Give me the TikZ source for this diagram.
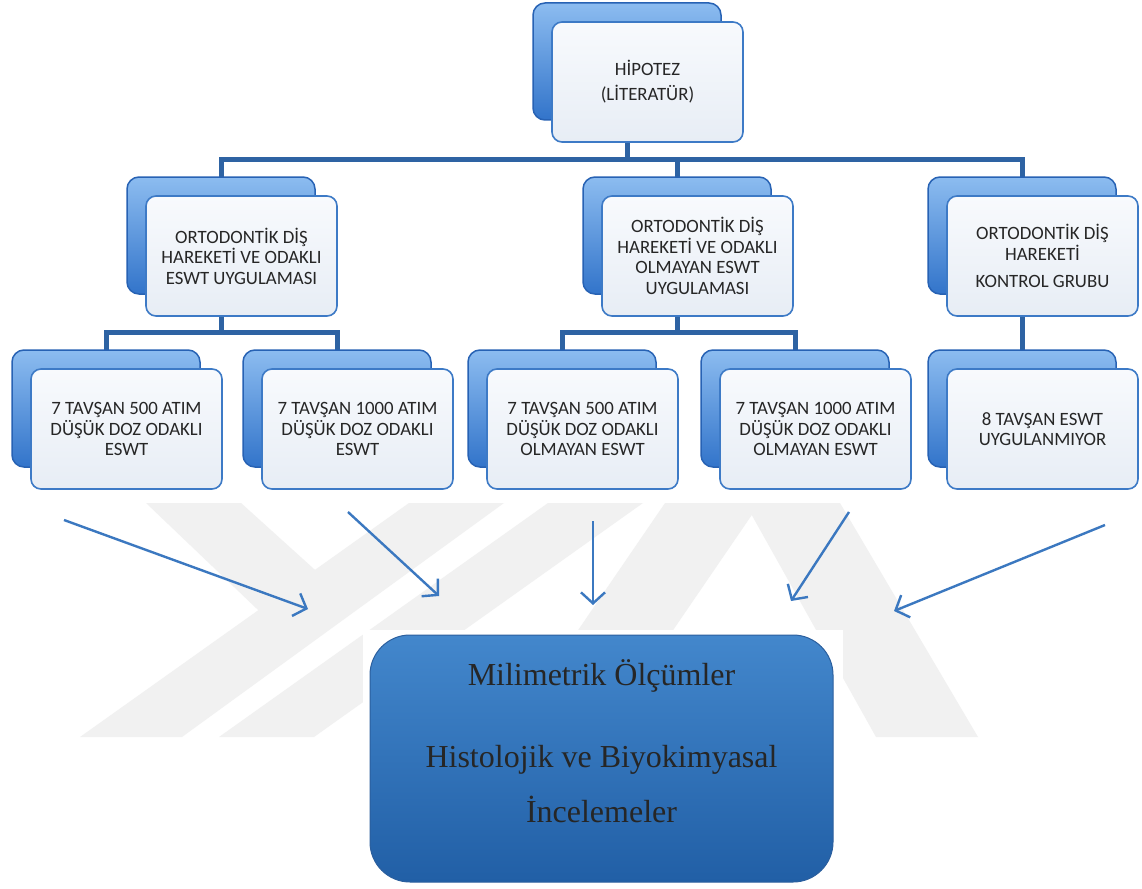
\documentclass[tikz,border=0pt]{standalone}
\usepackage{fontspec}
\setmainfont{Liberation Serif}
\newfontfamily\calib{Carlito}
\usetikzlibrary{arrows.meta,calc}
\definecolor{connc}{HTML}{2E63A3}
\definecolor{arrc}{HTML}{3B78C0}
\definecolor{txtc}{HTML}{262626}
\definecolor{backtop}{HTML}{8CBCF0}
\definecolor{backmid}{HTML}{4A8DDD}
\definecolor{backbot}{HTML}{3274CA}
\definecolor{backdraw}{HTML}{2762B4}
\definecolor{fronttop}{HTML}{F8FAFD}
\definecolor{frontbot}{HTML}{E7EDF5}
\definecolor{frontdraw}{HTML}{3D7AC6}
\definecolor{bigtop}{HTML}{4387CC}
\definecolor{bigbot}{HTML}{215FA6}
\definecolor{bigdraw}{HTML}{2B5F9E}
\definecolor{wmark}{HTML}{F1F1F1}
\pgfdeclarelayer{paper}
\pgfdeclarelayer{bg}
\pgfsetlayers{paper,bg,main}
\tikzset{
  backbox/.style={draw=backdraw, line width=1.5pt, rounded corners=12pt,
    top color=backtop, middle color=backmid, bottom color=backbot, minimum width=188pt,
    minimum height=117pt, inner sep=0pt, outer sep=0pt, anchor=north west},
  frontbox/.style={draw=frontdraw, line width=1.6pt, rounded corners=10pt,
    top color=fronttop, bottom color=frontbot, minimum width=191pt,
    minimum height=120pt, inner sep=0pt, outer sep=0pt, anchor=north west,
    align=center, text=txtc, font=\calib\fontsize{18.8}{20.5}\selectfont},
  conn/.style={draw=connc, line width=5pt},
  arr/.style={draw=arrc, line width=2.4pt, -{Straight Barb[length=11pt,width=24pt,line width=2.4pt]}},
  bigbox/.style={draw=bigdraw, line width=1pt, rounded corners=40pt,
    top color=bigtop, bottom color=bigbot, minimum width=463pt,
    minimum height=247pt, inner sep=0pt, outer sep=0pt},
  bigtext/.style={align=center, text=txtc, font=\fontsize{32}{37}\selectfont, inner sep=0pt},
  wm/.style={fill=wmark, draw=none}
}
\newcommand\unitpair[4]{%
  \node[backbox] (#1b) at (#2,#3) {};
  \node[frontbox] (#1) at ({#2+19},{#3+19}) {#4};
}
\begin{document}
\begin{tikzpicture}[x=1pt,y=-1pt]
\useasboundingbox (0,0) rectangle (1142,888);
\begin{pgfonlayer}{paper}
\fill[white] (0,0) rectangle (1142,888);
% faint watermark
\begin{scope}
\clip (0,503) rectangle (1142,737);
\fill[wm] (80,737) -- (182,737) -- (504,503) -- (409,503) -- cycle;
\fill[wm] (219,737) -- (314,737) -- (643,503) -- (548,503) -- cycle;
\fill[wm] (146,503) -- (241,503) -- (345,597) -- (300,650) -- cycle;
\fill[wm] (665,503) -- (760,503) -- (600,737) -- (505,737) -- cycle;
\fill[wm] (745,503) -- (840,503) -- (978,737) -- (876,737) -- cycle;
\end{scope}
\fill[white] (363,630) rectangle (843,888);
\end{pgfonlayer}
% boxes
\unitpair{hip}{533}{3}{HİPOTEZ\\[4.5pt](LİTERATÜR)}
\unitpair{ma}{127}{177}{ORTODONTİK DİŞ\\HAREKETİ VE ODAKLI\\ESWT UYGULAMASI}
\unitpair{mb}{583}{177}{ORTODONTİK DİŞ\\HAREKETİ VE ODAKLI\\OLMAYAN ESWT\\UYGULAMASI}
\unitpair{mc}{928}{177}{ORTODONTİK DİŞ\\HAREKETİ\\[6.5pt]KONTROL GRUBU}
\unitpair{ba}{12}{350}{7 TAVŞAN 500 ATIM\\DÜŞÜK DOZ ODAKLI\\ESWT}
\unitpair{bb}{243}{350}{7 TAVŞAN 1000 ATIM\\DÜŞÜK DOZ ODAKLI\\ESWT}
\unitpair{bc}{468}{350}{7 TAVŞAN 500 ATIM\\DÜŞÜK DOZ ODAKLI\\OLMAYAN ESWT}
\unitpair{bd}{701}{350}{7 TAVŞAN 1000 ATIM\\DÜŞÜK DOZ ODAKLI\\OLMAYAN ESWT}
\unitpair{be}{928}{350}{8 TAVŞAN ESWT\\UYGULANMIYOR}
% connectors
\coordinate (j1) at (0,159);
\coordinate (j2) at (0,332);
\begin{pgfonlayer}{bg}
\draw[conn] (hipb.south) -- (hipb.south |- j1) -| (mab.north);
\draw[conn] (hipb.south |- j1) -| (mbb.north);
\draw[conn] (hipb.south |- j1) -| (mcb.north);
\draw[conn] (mab.south) -- (mab.south |- j2) -| (bab.north);
\draw[conn] (mab.south |- j2) -| (bbb.north);
\draw[conn] (mbb.south) -- (mbb.south |- j2) -| (bcb.north);
\draw[conn] (mbb.south |- j2) -| (bdb.north);
\draw[conn] (mcb.south) -- (beb.north);
\end{pgfonlayer}
% result box
\node[bigbox] (res) at (601.5,758.5) {};
\node[bigtext] (restext) at (601.5,741) {Milimetrik Ölçümler\\[45pt]Histolojik ve Biyokimyasal\\[18pt]İncelemeler};
% arrows
\coordinate (a1s) at (64,520);   \coordinate (a1e) at (308,609);
\coordinate (a2s) at (348,512);  \coordinate (a2e) at (439,596);
\coordinate (a3s) at (593,521);  \coordinate (a3e) at (593,605);
\coordinate (a4s) at (849,512);  \coordinate (a4e) at (791,601);
\coordinate (a5s) at (1105,525); \coordinate (a5e) at (894,611);
\draw[arr] (a1s) -- (a1e);
\draw[arr] (a2s) -- (a2e);
\draw[arr] (a3s) -- (a3e);
\draw[arr] (a4s) -- (a4e);
\draw[arr] (a5s) -- (a5e);
\end{tikzpicture}
\end{document}
